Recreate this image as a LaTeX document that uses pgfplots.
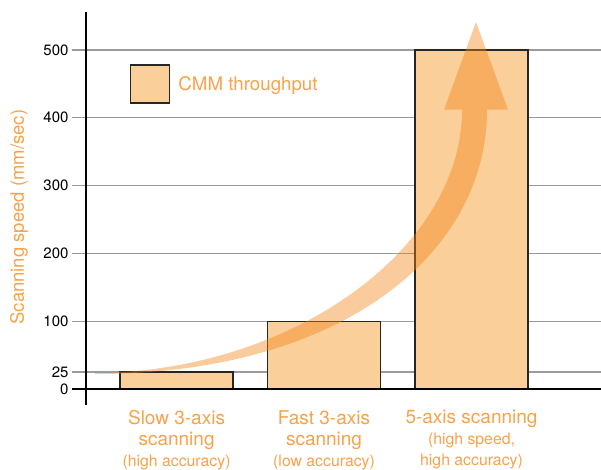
\documentclass[border=0pt]{standalone}
\usepackage{pgfplots}
\pgfplotsset{compat=1.18}
\usepackage{fontspec}
\setmainfont{TeX Gyre Heros}
\definecolor{barfill}{RGB}{251,207,154}
\definecolor{txtorange}{RGB}{248,162,74}
\definecolor{arroworange}{RGB}{242,130,20}
\definecolor{gridgray}{RGB}{155,155,155}
\newcommand{\sm}{\fontsize{15.8}{21}\selectfont}
\begin{document}
\begin{tikzpicture}
\begin{axis}[
  scale only axis,
  width=515pt, height=393pt,
  xmin=-0.614, xmax=2.878,
  ymin=-23.6, ymax=556,
  clip=false,
  axis x line=bottom,
  axis y line=left,
  x axis line style={draw=none},
  y axis line style={black, line width=1.8pt, -},
  xtick={0,1,2},
  xticklabels={
    {Slow 3-axis\\scanning\\{\sm (high accuracy)}},
    {Fast 3-axis\\scanning\\{\sm (low accuracy)}},
    {5-axis scanning\\{\sm (high speed,}\\{\sm high accuracy)}}},
  xticklabel style={align=center, text=txtorange, font=\fontsize{19}{21}\selectfont, anchor=north, yshift=12pt},
  major x tick style={draw=none},
  ytick={0,25,100,200,300,400,500},
  yticklabel style={font=\fontsize{15}{17}\selectfont, text=black},
  /pgf/number format/assume math mode=true,
  tick align=outside,
  major tick length=14pt,
  ytick style={gridgray, line width=1.1pt},
  ymajorgrids,
  grid style={gridgray, line width=1.1pt},
  ylabel={Scanning speed (mm/sec)},
  ylabel style={at={(axis description cs:-0.130,0.478)}, anchor=center, text=txtorange, font=\fontsize{18.5}{20}\selectfont},
  legend style={draw=none, fill=none, at={(axis description cs:0.0854,0.817)}, anchor=west, inner sep=0pt,
    font=\fontsize{18.7}{20}\selectfont, text=txtorange, cells={anchor=west}},
  legend image code/.code={\draw[fill=barfill, draw=black!85, line width=1.3pt] (0pt,-19pt) rectangle (39pt,19pt);},
]
\addplot[ybar, bar width=0.766, fill=barfill, draw=black!85, line width=1.3pt]
  coordinates {(0,25) (1,100) (2,500)};
\addlegendentry{\hspace{6pt}CMM throughput}
\draw[black, line width=1.8pt] (axis cs:-0.708,0) -- (axis cs:2.878,0);
\fill[arroworange, opacity=0.42]
  (axis cs:-0.5525,23.6) .. controls (axis cs:0.7695,25.07) and (axis cs:1.9356,205.0) .. (axis cs:1.9356,412)
  -- (axis cs:1.8136,412) -- (axis cs:2.0305,541.3) -- (axis cs:2.2475,412) -- (axis cs:2.1051,412)
  .. controls (axis cs:2.1051,197.6) and (axis cs:1.1085,22.1) .. (axis cs:-0.5525,22.1)
  -- cycle;
\end{axis}
\pgfresetboundingbox
\path ([shift={(-86pt,-65pt)}]current axis.south west) rectangle ([shift={(0pt,12pt)}]current axis.north east);
\end{tikzpicture}
\end{document}
